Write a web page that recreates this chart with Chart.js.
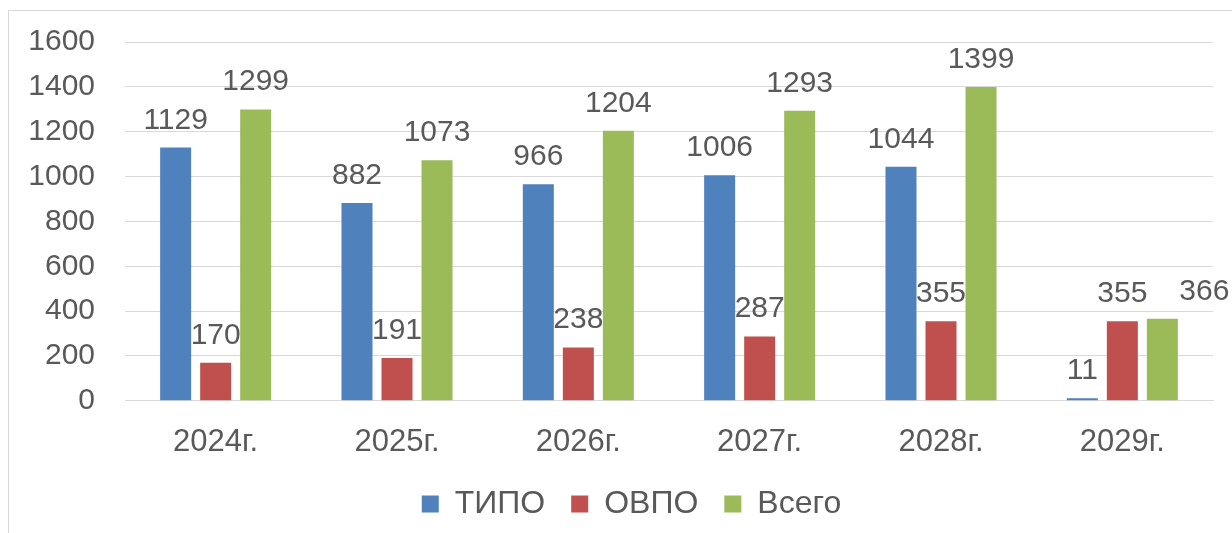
<!DOCTYPE html>
<html>
<head>
<meta charset="utf-8">
<script src="https://cdn.jsdelivr.net/npm/chart.js@4.4.1/dist/chart.umd.min.js"></script>
<style>
  html, body { margin: 0; padding: 0; background: #fff; overflow: hidden; }
  #wrap { position: relative; width: 1232px; height: 533px; }
  #frame { position: absolute; left: 8px; top: 10px; width: 1300px; height: 600px; border: 1px solid #d9d9d9; }
  #measureChart { position: absolute; left: 0; top: 0; }
</style>
</head>
<body>
<div id="wrap">
  <div id="frame"></div>
  <canvas id="measureChart" width="1232" height="533"></canvas>
</div>
<script>
var years = ['2024г.', '2025г.', '2026г.', '2027г.', '2028г.', '2029г.'];
var tipo = [1129, 882, 966, 1006, 1044, 11];
var ovpo = [170, 191, 238, 287, 355, 355];
var vsego = [1299, 1073, 1204, 1293, 1399, 366];
var yTicks = [0, 200, 400, 600, 800, 1000, 1200, 1400, 1600];

var textColor = '#595959';
var fontFamily = '"Liberation Sans", Arial, sans-serif';

// подписи значений над столбцами (последнюю у "Всего" Excel сдвинул вправо)
var valueLabels = {
  id: 'valueLabels',
  afterDatasetsDraw: function(chart) {
    var ctx = chart.ctx;
    ctx.save();
    ctx.font = '30px ' + fontFamily;
    ctx.fillStyle = textColor;
    ctx.textAlign = 'center';
    ctx.textBaseline = 'alphabetic';
    chart.data.datasets.forEach(function(ds, i) {
      var meta = chart.getDatasetMeta(i);
      meta.data.forEach(function(bar, j) {
        var dx = (ds.shiftLast && j === ds.data.length - 1) ? 42 : 0;
        ctx.fillText(ds.data[j], bar.x + dx, bar.y - 19);
      });
    });
    ctx.restore();
  }
};

// легенда в Excel отцентрована по всей рамке, а не по области слева от оси
var legendShift = {
  id: 'legendShift',
  afterLayout: function(chart) {
    if (chart.legend) {
      chart.legend.left += 25;
      chart.legend.right += 25;
    }
  }
};

var ctx = document.getElementById('measureChart').getContext('2d');
var myChart = new Chart(ctx, {
  type: 'bar',
  data: {
    labels: years,
    datasets: [{
      label: 'ТИПО',
      data: tipo,
      backgroundColor: '#4F81BD'
    }, {
      label: 'ОВПО',
      data: ovpo,
      backgroundColor: '#C0504D'
    }, {
      label: 'Всего',
      data: vsego,
      backgroundColor: '#9BBB59',
      shiftLast: true
    }]
  },
  options: {
    responsive: false,
    animation: false,
    categoryPercentage: 0.662,
    barPercentage: 0.775,
    layout: { padding: { left: 0, right: 19, top: 42, bottom: 3 } },
    plugins: {
      tooltip: { enabled: false },
      legend: {
        position: 'bottom',
        labels: {
          boxWidth: 17,
          boxHeight: 17,
          padding: 26,
          color: textColor,
          font: { size: 32, family: fontFamily }
        }
      }
    },
    scales: {
      x: {
        grid: { display: false },
        border: { color: '#d9d9d9' },
        afterFit: function(scale) { scale.height = scale.height - 14; },
        ticks: { color: textColor, padding: 15, font: { size: 31, family: fontFamily } }
      },
      y: {
        min: 0,
        max: 1600,
        afterBuildTicks: function(scale) {
          scale.ticks = yTicks.map(function(v) { return { value: v }; });
        },
        afterFit: function(scale) {
          scale.width = 125;
          scale.paddingTop = 0;
          scale.paddingBottom = 0;
        },
        grid: { color: '#d9d9d9', drawTicks: false },
        border: { display: false },
        ticks: {
          color: textColor, padding: 30, font: { size: 30, family: fontFamily },
          callback: function(v) { return String(v); }
        }
      }
    }
  },
  plugins: [valueLabels, legendShift]
});
</script>
</body>
</html>
